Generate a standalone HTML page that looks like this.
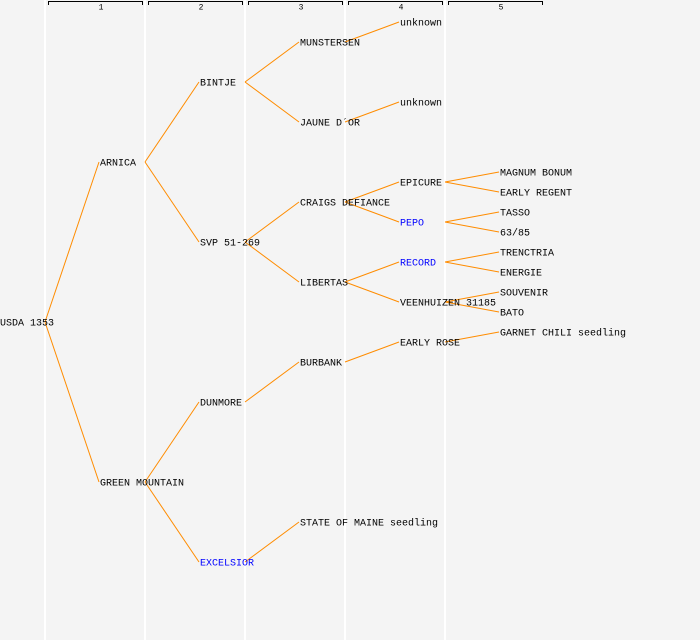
<!DOCTYPE html>
<html><head><meta charset="utf-8"><style>
html,body{margin:0;padding:0;background:#f4f4f4;}
svg{display:block;}
text{font-family:"Liberation Mono","DejaVu Sans Mono",monospace;font-size:10px;dominant-baseline:central;fill:#000;}
.b{fill:#0000ff;}
.h{font-size:8px;text-anchor:middle;}
</style></head><body>
<svg width="700" height="640" viewBox="0 0 700 640" xmlns="http://www.w3.org/2000/svg">
<rect width="700" height="640" fill="#f4f4f4"/>
<g stroke="#ffffff" stroke-width="2">
<line x1="45" y1="0" x2="45" y2="640"/><line x1="145" y1="0" x2="145" y2="640"/><line x1="245" y1="0" x2="245" y2="640"/><line x1="345" y1="0" x2="345" y2="640"/><line x1="445" y1="0" x2="445" y2="640"/>
</g>
<g stroke="#000" stroke-width="1" fill="none">
<path d="M48.5 5V1.5H142.5V5"/><path d="M148.5 5V1.5H242.5V5"/><path d="M248.5 5V1.5H342.5V5"/><path d="M348.5 5V1.5H442.5V5"/><path d="M448.5 5V1.5H542.5V5"/>
</g>
<g transform="translate(0,1)">
<text class="h" x="101" y="7">1</text><text class="h" x="201" y="7">2</text><text class="h" x="301" y="7">3</text><text class="h" x="401" y="7">4</text><text class="h" x="501" y="7">5</text>
</g>
<g stroke="#ff8c00" stroke-width="1" fill="none">
<line x1="45" y1="322" x2="99" y2="162"/><line x1="45" y1="322" x2="99" y2="482"/>
<line x1="145" y1="162" x2="199" y2="82"/><line x1="145" y1="162" x2="199" y2="242"/>
<line x1="145" y1="482" x2="199" y2="402"/><line x1="145" y1="482" x2="199" y2="562"/>
<line x1="245" y1="82" x2="299" y2="42"/><line x1="245" y1="82" x2="299" y2="122"/>
<line x1="245" y1="242" x2="299" y2="202"/><line x1="245" y1="242" x2="299" y2="282"/>
<line x1="245" y1="402" x2="299" y2="362"/><line x1="245" y1="562" x2="299" y2="522"/>
<line x1="345" y1="42" x2="399" y2="22"/><line x1="345" y1="122" x2="399" y2="102"/>
<line x1="345" y1="202" x2="399" y2="182"/><line x1="345" y1="202" x2="399" y2="222"/>
<line x1="345" y1="282" x2="399" y2="262"/><line x1="345" y1="282" x2="399" y2="302"/>
<line x1="345" y1="362" x2="399" y2="342"/>
<line x1="445" y1="182" x2="499" y2="172"/><line x1="445" y1="182" x2="499" y2="192"/>
<line x1="445" y1="222" x2="499" y2="212"/><line x1="445" y1="222" x2="499" y2="232"/>
<line x1="445" y1="262" x2="499" y2="252"/><line x1="445" y1="262" x2="499" y2="272"/>
<line x1="445" y1="302" x2="499" y2="292"/><line x1="445" y1="302" x2="499" y2="312"/>
<line x1="445" y1="342" x2="499" y2="332"/>
</g>
<g transform="translate(0,2)">
<text x="0" y="322">USDA 1353</text>
<text x="100" y="162">ARNICA</text><text x="100" y="482">GREEN MOUNTAIN</text>
<text x="200" y="82">BINTJE</text><text x="200" y="242">SVP 51-269</text><text x="200" y="402">DUNMORE</text><text x="200" y="562" class="b">EXCELSIOR</text>
<text x="300" y="42">MUNSTERSEN</text><text x="300" y="122">JAUNE D´OR</text><text x="300" y="202">CRAIGS DEFIANCE</text><text x="300" y="282">LIBERTAS</text><text x="300" y="362">BURBANK</text><text x="300" y="522">STATE OF MAINE seedling</text>
<text x="400" y="22">unknown</text><text x="400" y="102">unknown</text><text x="400" y="182">EPICURE</text><text x="400" y="222" class="b">PEPO</text><text x="400" y="262" class="b">RECORD</text><text x="400" y="302">VEENHUIZEN 31185</text><text x="400" y="342">EARLY ROSE</text>
<text x="500" y="172">MAGNUM BONUM</text><text x="500" y="192">EARLY REGENT</text><text x="500" y="212">TASSO</text><text x="500" y="232">63/85</text><text x="500" y="252">TRENCTRIA</text><text x="500" y="272">ENERGIE</text><text x="500" y="292">SOUVENIR</text><text x="500" y="312">BATO</text><text x="500" y="332">GARNET CHILI seedling</text>
</g>
</svg>
</body></html>
